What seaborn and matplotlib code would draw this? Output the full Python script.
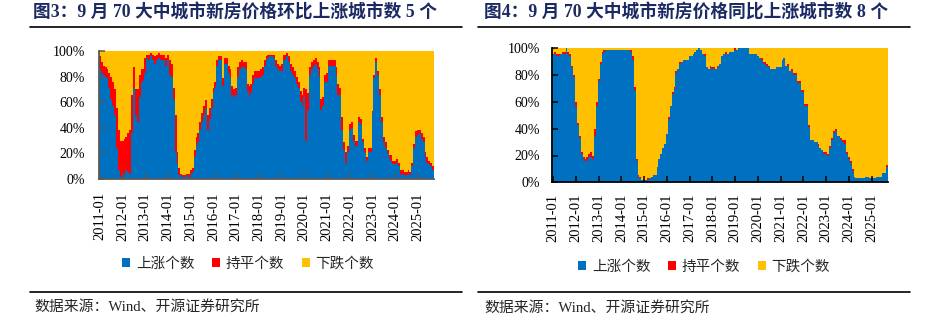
import matplotlib
matplotlib.use("Agg")
import matplotlib.pyplot as plt
from matplotlib.lines import Line2D
from matplotlib.patches import Patch
import pandas as pd
import seaborn as sns

# ---------------- data: 70 large & mid-sized cities, new-home prices ----------------
MONTHS = pd.period_range("2011-01", "2025-09", freq="M").strftime("%Y-%m").tolist()
TOTAL_CITIES = 70
CATEGORIES = ["上涨个数", "持平个数", "下跌个数"]
COLORS = {"上涨个数": "#0070C0", "持平个数": "#FF0000", "下跌个数": "#FFC000"}

# month-on-month: number of cities with rising / unchanged prices
MOM_UP = [
    60, 58, 57, 56, 55, 50, 44, 40, 35, 17, 5, 1,          # 2011
    1, 2, 5, 4, 3, 25, 50, 35, 31, 45, 53, 54,            # 2012
    58, 66, 65, 67, 65, 63, 65, 66, 65, 65, 65, 62,       # 2013
    65, 57, 56, 44, 15, 8, 2, 2, 1, 1, 2, 1,              # 2014
    2, 4, 12, 18, 20, 27, 31, 35, 39, 27, 33, 39,         # 2015
    47, 50, 62, 65, 65, 51, 63, 63, 58, 55, 46, 45,       # 2016
    46, 56, 60, 61, 61, 60, 48, 45, 47, 52, 55, 55,       # 2017
    55, 56, 57, 62, 65, 66, 67, 67, 66, 62, 60, 59,       # 2018
    59, 65, 65, 67, 64, 59, 57, 55, 52, 50, 42, 40,       # 2019
    45, 21, 38, 57, 60, 62, 63, 60, 56, 38, 40, 53,       # 2020
    53, 62, 62, 62, 62, 57, 46, 46, 27, 16, 9, 15,        # 2021
    27, 28, 21, 18, 18, 31, 30, 20, 15, 10, 15, 15,       # 2022
    36, 55, 64, 57, 46, 31, 20, 17, 14, 11, 10, 8,        # 2023
    8, 9, 7, 2, 3, 2, 2, 3, 2, 7, 17, 23,                 # 2024
    24, 25, 22, 20, 12, 9, 8, 7, 5,                       # 2025
]
MOM_FLAT = [
    7, 6, 5, 5, 5, 8, 12, 13, 14, 22, 22, 20,
    20, 20, 18, 21, 24, 21, 11, 14, 18, 12, 7, 6,
    8, 2, 3, 2, 3, 4, 3, 3, 3, 3, 3, 4,
    3, 8, 7, 6, 20, 7, 4, 1, 1, 1, 1, 2,
    3, 2, 4, 5, 5, 4, 5, 5, 4, 8, 6, 5,
    3, 3, 3, 2, 2, 4, 3, 3, 4, 5, 5, 4,
    4, 5, 4, 4, 3, 4, 4, 6, 5, 5, 4, 4,
    4, 4, 4, 3, 2, 2, 1, 1, 2, 3, 3, 3,
    4, 3, 3, 2, 3, 4, 4, 4, 4, 3, 6, 6,
    5, 28, 9, 4, 4, 3, 3, 4, 5, 6, 5, 4,
    5, 3, 3, 3, 3, 4, 6, 4, 7, 4, 6, 3,
    3, 3, 3, 3, 3, 3, 3, 2, 2, 2, 2, 2,
    1, 2, 2, 2, 3, 3, 3, 3, 2, 2, 3, 2,
    2, 2, 2, 3, 2, 2, 2, 2, 2, 2, 2, 3,
    3, 2, 3, 3, 3, 3, 2, 2, 2,
]

# year-on-year: number of cities with rising / unchanged prices
YOY_UP = [
    67, 67, 66, 66, 67, 67, 67, 70, 67, 66, 60, 55,       # 2011
    40, 30, 23, 15, 12, 11, 11, 13, 13, 12, 24, 40,       # 2012
    53, 62, 67, 68, 69, 69, 69, 69, 69, 69, 69, 69,       # 2013
    69, 69, 69, 69, 69, 68, 64, 48, 11, 3, 2, 1,          # 2014
    1, 1, 1, 2, 3, 4, 4, 8, 12, 15, 18, 20,               # 2015
    25, 33, 40, 46, 49, 57, 59, 62, 63, 64, 64, 64,       # 2016
    66, 66, 67, 68, 69, 70, 69, 67, 66, 60, 59, 60,       # 2017
    59, 59, 59, 60, 62, 66, 67, 67, 67, 68, 68, 68,       # 2018
    69, 69, 70, 70, 70, 70, 70, 70, 67, 67, 67, 67,       # 2019
    66, 65, 64, 62, 62, 61, 60, 59, 59, 59, 60, 60,       # 2020
    60, 64, 65, 61, 61, 58, 58, 56, 56, 52, 52, 47,       # 2021
    47, 40, 40, 29, 22, 22, 21, 21, 19, 18, 17, 15,       # 2022
    15, 14, 18, 22, 26, 27, 24, 24, 22, 21, 20, 15,       # 2023
    12, 10, 6, 3, 2, 2, 2, 2, 2, 3, 3, 2,                 # 2024
    2, 2, 2, 3, 3, 3, 5, 5, 8,                            # 2025
]
YOY_FLAT = [
    0, 1, 1, 1, 0, 1, 1, 0, 1, 1, 1, 1,
    2, 1, 1, 1, 1, 1, 2, 2, 3, 2, 4, 2,
    1, 1, 1, 1, 0, 0, 0, 0, 0, 0, 0, 0,
    0, 0, 0, 0, 0, 1, 2, 2, 1, 1, 1, 0,
    0, 0, 1, 0, 0, 0, 0, 0, 0, 0, 0, 0,
    0, 1, 0, 1, 1, 1, 0, 1, 0, 0, 0, 0,
    0, 0, 0, 0, 0, 0, 0, 0, 1, 0, 0, 1,
    1, 1, 0, 1, 0, 0, 0, 1, 0, 0, 0, 0,
    1, 0, 0, 0, 0, 0, 0, 0, 0, 0, 0, 0,
    0, 0, 1, 1, 1, 1, 1, 0, 0, 0, 0, 0,
    0, 0, 0, 0, 1, 0, 1, 1, 1, 1, 1, 1,
    1, 1, 1, 1, 0, 0, 0, 0, 1, 0, 0, 1,
    1, 1, 1, 1, 1, 1, 0, 0, 1, 1, 2, 1,
    1, 1, 1, 0, 0, 0, 0, 0, 0, 0, 0, 0,
    0, 0, 0, 0, 0, 0, 0, 0, 1,
]

TITLE_MOM = "图3：9 月 70 大中城市新房价格环比上涨城市数 5 个"
TITLE_YOY = "图4：9 月 70 大中城市新房价格同比上涨城市数 8 个"
SOURCE = "数据来源：Wind、开源证券研究所"
TICK_STEP = 12
Y_TICKS = [0, 0.2, 0.4, 0.6, 0.8, 1.0]
Y_LABELS = ["0%", "20%", "40%", "60%", "80%", "100%"]


def long_frame(up, flat):
    """Long table: one row per month and category, the falling count is the rest of 70."""
    down = [TOTAL_CITIES - u - f for u, f in zip(up, flat)]
    rows = []
    for i, (u, f, d) in enumerate(zip(up, flat, down)):
        rows += [(i, "上涨个数", u), (i, "持平个数", f), (i, "下跌个数", d)]
    return pd.DataFrame(rows, columns=["月份序号", "类别", "城市数"])


# ---------------- style ----------------
sns.set_theme(style="ticks")
plt.rcParams["font.family"] = ["Liberation Serif", "Noto Sans CJK SC"]
plt.rcParams["axes.unicode_minus"] = False

fig = plt.figure(figsize=(9.33, 3.34), dpi=100)
W, H = 933, 334


def px_axes(x0, y0, x1, y1):
    return fig.add_axes([x0 / W, 1 - y1 / H, (x1 - x0) / W, (y1 - y0) / H])


ax_l = px_axes(99, 51, 434, 179)
ax_r = px_axes(552.3, 48.3, 887.7, 182.3)

panels = [
    (ax_l, MOM_UP, MOM_FLAT, "#595959", 10, 9.5),
    (ax_r, YOY_UP, YOY_FLAT, "#000000", 9, 8),
]
for ax, up, flat, spine_col, ypad, xpad in panels:
    df = long_frame(up, flat)
    sns.histplot(
        data=df, x="月份序号", weights="城市数", hue="类别",
        hue_order=CATEGORIES[::-1], palette=COLORS,
        multiple="fill", discrete=True, element="step",
        fill=True, alpha=1, linewidth=0, legend=False, ax=ax,
    )
    ax.set_axisbelow(False)
    ax.set_xlim(-0.5, len(MONTHS) - 0.5)
    ax.set_ylim(0, 1)
    ax.set_xlabel("")
    ax.set_ylabel("")
    ax.set_yticks(Y_TICKS)
    ax.set_yticklabels(Y_LABELS, fontsize=10)
    ticks = list(range(0, len(MONTHS), TICK_STEP))
    ax.set_xticks(ticks)
    ax.set_xticklabels([MONTHS[t] for t in ticks], rotation=90, fontsize=10.5)
    for s in ("top", "right"):
        ax.spines[s].set_visible(False)
    for s in ("left", "bottom"):
        ax.spines[s].set_color(spine_col)
        ax.spines[s].set_linewidth(1.3)
    ax.tick_params(axis="both", direction="in", length=4, width=1.1,
                   color=spine_col, labelcolor="#000000")
    ax.tick_params(axis="y", pad=ypad)
    ax.tick_params(axis="x", pad=xpad)

# ---------------- titles, rules, legends, source ----------------
title_kw = dict(ha="left", va="center", fontsize=12.75, fontweight="bold", color="#1B2A63")
fig.text(33 / W, 1 - 13 / H, TITLE_MOM, **title_kw)
fig.text(484 / W, 1 - 13 / H, TITLE_YOY, **title_kw)

for x0, x1 in ((30, 462), (478, 910)):
    for y in (27, 292):
        fig.add_artist(Line2D([x0 / W, x1 / W], [1 - y / H, 1 - y / H],
                              transform=fig.transFigure, color="black", lw=1.2))

handles = [Patch(facecolor=COLORS[c], edgecolor="none") for c in CATEGORIES]
for cx, cy in ((248, 264), (704, 267)):
    fig.legend(handles, CATEGORIES, loc="center", bbox_to_anchor=(cx / W, 1 - cy / H),
               ncol=3, frameon=False, fontsize=10.5, handlelength=0.55,
               handleheight=0.55, handletextpad=0.4, columnspacing=1.2,
               borderaxespad=0, borderpad=0)

fig.text(34 / W, 1 - 307 / H, SOURCE, ha="left", va="center", fontsize=10.7)
fig.text(484 / W, 1 - 308 / H, SOURCE, ha="left", va="center", fontsize=10.7)

fig.savefig("out.png", dpi=100)
